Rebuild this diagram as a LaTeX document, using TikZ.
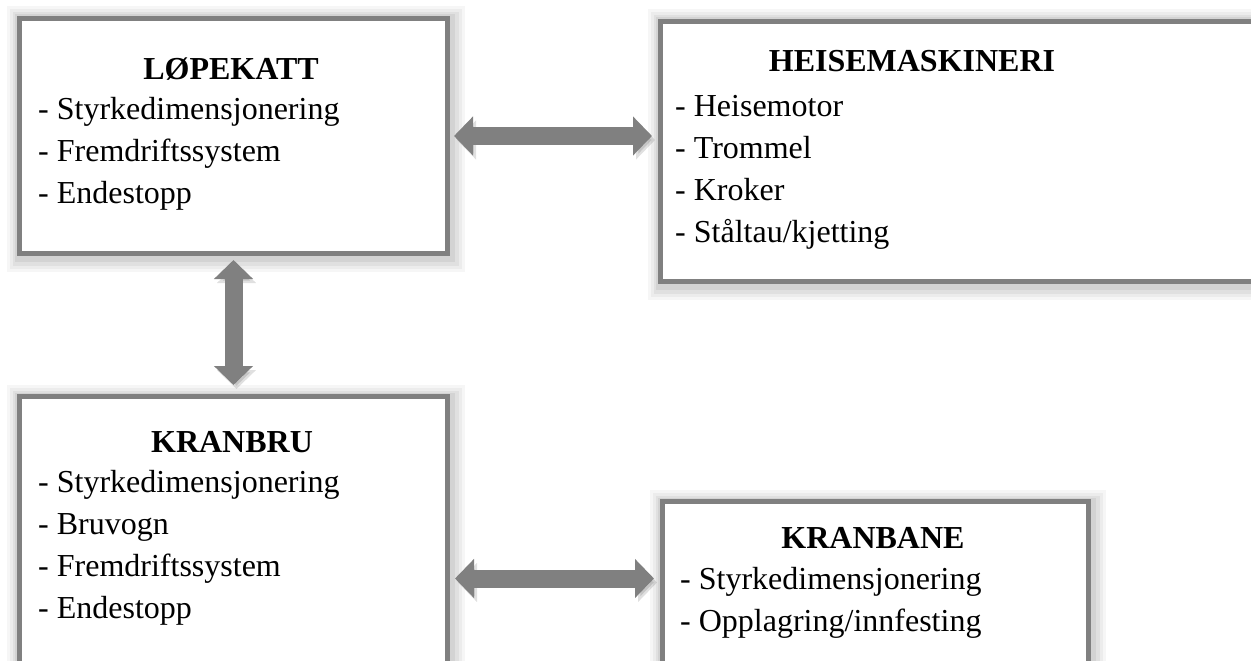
\documentclass[tikz,border=0pt]{standalone}
\usepackage{fontspec}
\setmainfont{Liberation Serif}
\usetikzlibrary{calc}
\usetikzlibrary{positioning}
\usetikzlibrary{arrows.meta}
\definecolor{boxgray}{RGB}{128,128,128}

\begin{document}
\begin{tikzpicture}[x=1pt, y=-1pt,
	box/.style={draw=boxgray, line width=5pt, fill=white, anchor=north west, inner sep=0pt,
		preaction={draw=black, draw opacity=0.035, line width=30pt, transform canvas={xshift=2pt, yshift=-3pt}},
		preaction={draw=black, draw opacity=0.04, line width=24pt, transform canvas={xshift=2pt, yshift=-3pt}},
		preaction={draw=black, draw opacity=0.05, line width=18pt, transform canvas={xshift=2pt, yshift=-3pt}},
		preaction={draw=black, draw opacity=0.06, line width=12pt, transform canvas={xshift=1pt, yshift=-2pt}}},
	head/.style={anchor=base, inner sep=0pt, font=\fontsize{32}{42}\selectfont\bfseries},
	% base of a list node is the baseline of its last line
	list/.style={anchor=base west, inner sep=0pt, align=left, font=\fontsize{32}{42}\selectfont},
	link/.style={{Triangle[width=38pt,length=19pt]}-{Triangle[width=38pt,length=19pt]}, line width=18pt, draw=boxgray, fill=boxgray,
		preaction={draw=black, fill=black, opacity=0.12, transform canvas={xshift=3pt, yshift=-4pt}}}]
		
		\clip (0,0) rectangle (1251,661);
		
		\node[box, minimum width=428pt, minimum height=235pt] (LOPE) at (17,16) {};
		\node[box, minimum width=642pt, minimum height=260pt] (HEIS) at (658,19) {};
		\node[box, minimum width=428pt, minimum height=364pt] (BRU) at (17,394) {};
		\node[box, minimum width=426pt, minimum height=301pt] (BANE) at (660,499) {};
		
		\node[head] (LOPEhead) at (231,80) {LØPEKATT};
		\node[list] (LOPElist) at (38,203) {- Styrkedimensjonering\\- Fremdriftssystem\\- Endestopp};
		\node[head] (HEIShead) at (912,72) {HEISEMASKINERI};
		\node[list] (HEISlist) at (675,242) {- Heisemotor\\- Trommel\\- Kroker\\- Ståltau/kjetting};
		\node[head] (BRUhead) at (232,452) {KRANBRU};
		\node[list] (BRUlist) at (38,618) {- Styrkedimensjonering\\- Bruvogn\\- Fremdriftssystem\\- Endestopp};
		\node[head] (BANEhead) at (873,548) {KRANBANE};
		\node[list] (BANElist) at (680,631) {- Styrkedimensjonering\\- Opplagring/innfesting};
		
		\draw[link, shorten <=4pt, shorten >=6pt] (LOPE.east) -- (LOPE.east -| HEIS.west);
		\draw[link, shorten <=4pt, shorten >=9pt] (LOPE.south) -- (BRU.north);
		\draw[link, shorten <=5pt, shorten >=6pt] (BRU.east) -- (BRU.east -| BANE.west);
		\end{tikzpicture}
\end{document}
